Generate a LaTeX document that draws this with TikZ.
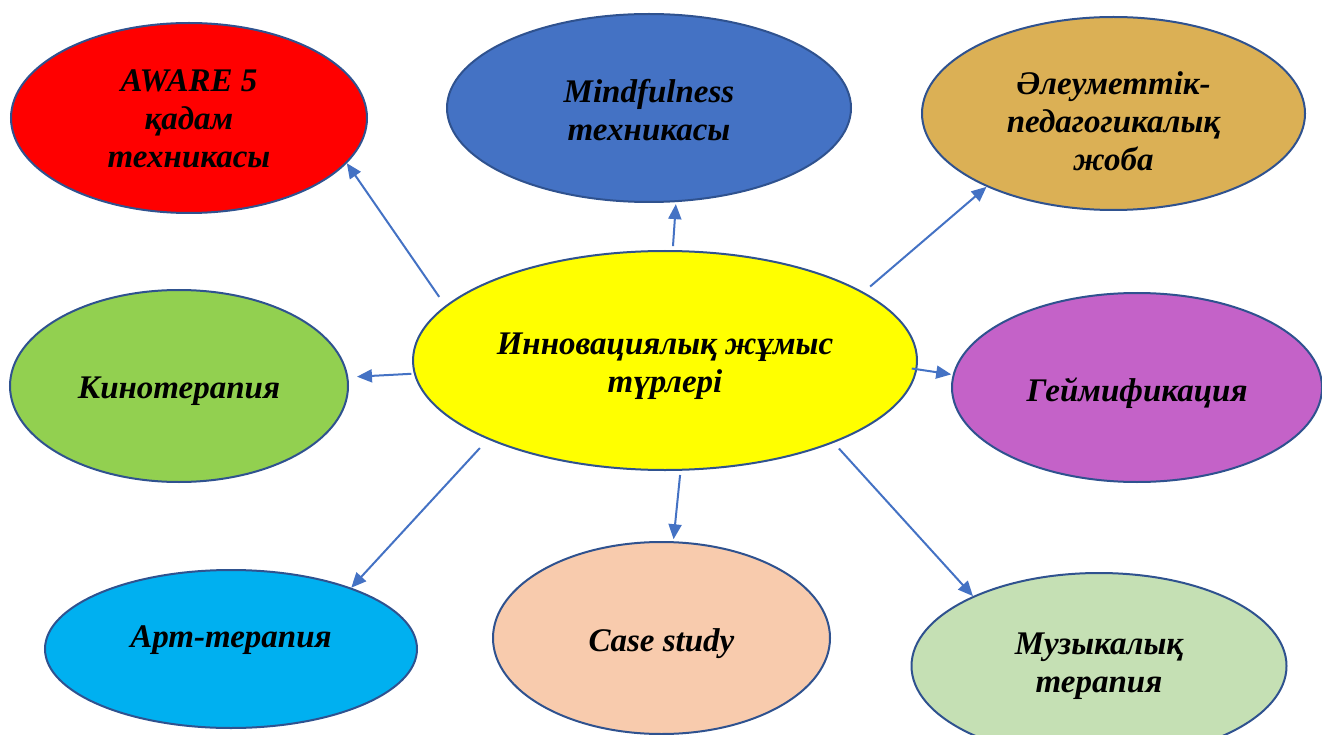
\documentclass[tikz,border=0pt]{standalone}
\usepackage{fontspec}
\setmainfont{Liberation Serif}
\usetikzlibrary{shapes.geometric,arrows.meta}
\definecolor{edgec}{HTML}{2F528F}
\definecolor{arrc}{HTML}{4472C4}
\definecolor{cred}{HTML}{FF0000}
\definecolor{cblue}{HTML}{4472C4}
\definecolor{cgold}{HTML}{DBB055}
\definecolor{cyel}{HTML}{FFFF00}
\definecolor{cgreen}{HTML}{92D050}
\definecolor{cpurple}{HTML}{C462C8}
\definecolor{ccyan}{HTML}{00B0F0}
\definecolor{cpeach}{HTML}{F8CBAD}
\definecolor{clg}{HTML}{C5E0B4}
\begin{document}
\begin{tikzpicture}[x=1pt,y=-1pt,
  bub/.style={ellipse, draw=edgec, line width=2pt, inner sep=0pt},
  txt/.style={inner sep=0pt, align=center, text=black,
    font=\fontsize{33}{38}\selectfont\bfseries\itshape},
  arr/.style={-{Triangle[length=15pt,width=13pt]}, draw=arrc, line width=2pt}]
\useasboundingbox (0,0) rectangle (1322,735);
\node[bub, fill=cred, minimum width=356pt, minimum height=190pt,
  label={[txt, yshift=-1pt]center:{AWARE 5\\қадам\\техникасы}}] (red) at (189,118) {};
\node[bub, fill=cblue, minimum width=404pt, minimum height=188pt,
  label={[txt, yshift=-2pt]center:{Mindfulness\\техникасы}}] (blue) at (649,108) {};
\node[bub, fill=cgold, minimum width=383pt, minimum height=193pt,
  label={[txt, yshift=-8pt]center:{Әлеуметтік-\\педагогикалық\\жоба}}] (gold) at (1113.5,113.5) {};
\node[bub, fill=cyel, minimum width=504pt, minimum height=219pt,
  label={[txt, yshift=-6pt]center:{Инновациялық жұмыс\\түрлері}}] (c) at (665,360.5) {};
\node[bub, fill=cgreen, minimum width=338pt, minimum height=192pt,
  label={[txt, yshift=-5pt]center:{Кинотерапия}}] (green) at (179,386) {};
\node[bub, fill=cpurple, minimum width=370pt, minimum height=189pt,
  label={[txt, yshift=-6pt]center:{Геймификация}}] (purple) at (1137,387.5) {};
\node[bub, fill=ccyan, minimum width=372pt, minimum height=158pt,
  label={[txt, yshift=9pt]center:{Арт-терапия}}] (cyan) at (231,649) {};
\node[bub, fill=cpeach, minimum width=337pt, minimum height=192pt,
  label={[txt, yshift=-6pt]center:{Case study}}] (peach) at (661.5,638) {};
\node[bub, fill=clg, minimum width=375pt, minimum height=186pt,
  label={[txt, yshift=0pt]center:{Музыкалық\\терапия}}] (lg) at (1099,666) {};
\draw[arr, shorten <=10.7pt] (c.166.6) -- (red.-16.6);
\draw[arr, shorten <=4pt, shorten >=2pt] (c.86.5) -- (blue.-74.4);
\draw[arr, shorten <=8.5pt] (c.19.0) -- (gold.210.7);
\draw[arr, shorten <=2.5pt, shorten >=8.7pt] (c.183.55) -- (green.3.06);
\draw[arr, shorten <=-5.5pt, shorten >=1.5pt] (c.-2.93) -- (purple.176.1);
\draw[arr, shorten <=11.8pt] (c.204.3) -- (cyan.27.3);
\draw[arr, shorten <=4.2pt, shorten >=2pt] (c.-82.5) -- (peach.83.9);
\draw[arr, shorten <=7.7pt] (c.-26.7) -- (lg.151.6);
\end{tikzpicture}
\end{document}
